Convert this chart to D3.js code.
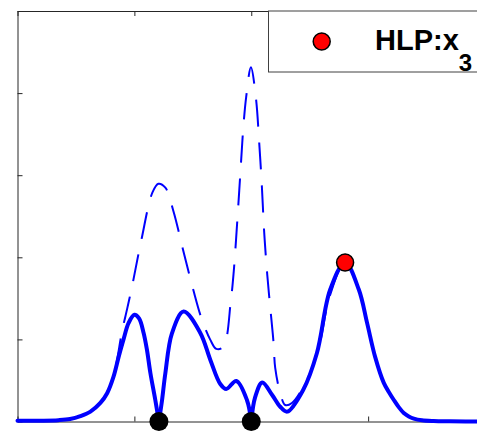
<!DOCTYPE html>
<html>
<head>
<meta charset="utf-8">
<script src="https://cdn.jsdelivr.net/npm/d3@7"></script>
<style>
  html, body { margin: 0; padding: 0; background: #fff; }
  svg { display: block; }
</style>
</head>
<body>
<div id="chart"></div>
<script>
// ---- data ----
const xTicks = [0, 1, 2, 3, 4];
const yTicks = [0, 1, 2, 3, 4, 5];

const solidX = [0, 0.2, 0.35, 0.45, 0.538, 0.624, 0.709, 0.767, 0.821, 0.866, 0.906, 0.951, 1.0, 1.04, 1.079, 1.108, 1.137, 1.179, 1.21, 1.237, 1.265, 1.322, 1.421, 1.564, 1.650, 1.735, 1.786, 1.872, 1.963, 2.0, 2.034, 2.094, 2.179, 2.248, 2.308, 2.444, 2.562, 2.675, 2.803, 2.921, 2.991, 3.060, 3.134, 3.177, 3.220, 3.262, 3.305, 3.348, 3.391, 3.46, 3.56, 3.7, 4.0];
const solidY = [0.008, 0.01, 0.016, 0.03, 0.065, 0.12, 0.226, 0.344, 0.543, 0.79, 0.994, 1.201, 1.299, 1.255, 1.079, 0.87, 0.591, 0.262, 0, 0.262, 0.588, 1.076, 1.339, 1.079, 0.75, 0.457, 0.396, 0.494, 0.262, 0, 0.299, 0.476, 0.323, 0.18, 0.12, 0.384, 0.835, 1.604, 1.937, 1.604, 1.201, 0.787, 0.470, 0.36, 0.262, 0.175, 0.104, 0.062, 0.035, 0.014, 0.005, 0.002, 0.0];

const dashX = [0, 0.2, 0.35, 0.45, 0.538, 0.624, 0.709, 0.767, 0.821, 0.897, 0.940, 0.983, 1.060, 1.154, 1.205, 1.265, 1.333, 1.427, 1.504, 1.573, 1.650, 1.701, 1.761, 1.826, 1.850, 1.880, 1.906, 1.932, 1.957, 1.997, 2.040, 2.068, 2.091, 2.111, 2.137, 2.162, 2.191, 2.205, 2.248, 2.291, 2.348, 2.476, 2.573, 2.675, 2.803, 2.921, 2.991, 3.060, 3.134, 3.177, 3.220, 3.262, 3.305, 3.348, 3.391, 3.46, 3.56, 3.7, 4.0];
const dashY = [0.008, 0.01, 0.016, 0.03, 0.065, 0.12, 0.226, 0.344, 0.543, 1.116, 1.384, 1.665, 2.213, 2.787, 2.896, 2.848, 2.567, 2.030, 1.604, 1.262, 0.994, 0.884, 0.909, 1.482, 1.823, 2.433, 3.006, 3.579, 3.957, 4.315, 3.941, 3.396, 2.860, 2.299, 1.787, 1.396, 0.957, 0.652, 0.348, 0.201, 0.226, 0.506, 0.872, 1.543, 1.937, 1.604, 1.201, 0.787, 0.470, 0.36, 0.262, 0.175, 0.104, 0.062, 0.035, 0.014, 0.005, 0.002, 0.0];

const zeroX = [1.21, 2.0];
const zeroY = [0, 0];
const hlpX = [2.803];
const hlpY = [1.937];
const legendLabel = "HLP:x";
const legendSub = "3";

// ---- layout ----
const W = 477, H = 437;
const mLeft = 17.5, mRight = 485, mTop = 11, mBottom = 421.5;

const svg = d3.select("#chart").append("svg").attr("width", W).attr("height", H);

const x = d3.scaleLinear().domain([0, 4]).range([mLeft, mRight]);
const y = d3.scaleLinear().domain([0, 5]).range([mBottom, mTop]);

// axes
const axisColor = "#262626";
function styleAxis(g) {
  g.selectAll("path.domain").attr("stroke", axisColor).attr("stroke-width", 1);
  g.selectAll(".tick line").attr("stroke", axisColor).attr("stroke-width", 1);
  g.selectAll(".tick text").remove();
}
svg.append("g").attr("transform", `translate(0,${mBottom})`)
  .call(d3.axisBottom(x).tickValues(xTicks).tickSizeInner(-5).tickSizeOuter(0).tickFormat(""))
  .call(styleAxis);
svg.append("g").attr("transform", `translate(0,${mTop})`)
  .call(d3.axisTop(x).tickValues(xTicks).tickSizeInner(-5).tickSizeOuter(0).tickFormat(""))
  .call(styleAxis);
svg.append("g").attr("transform", `translate(${mLeft},0)`)
  .call(d3.axisLeft(y).tickValues(yTicks).tickSizeInner(-5).tickSizeOuter(0).tickFormat(""))
  .call(styleAxis);

// lines
const line = d3.line().x(d => x(d[0])).y(d => y(d[1])).curve(d3.curveCatmullRom.alpha(0.5));

const dashPts = dashX.map((v, i) => [v, dashY[i]]);
svg.append("path").attr("d", line(dashPts))
  .attr("fill", "none").attr("stroke", "#0000ff").attr("stroke-width", 2)
  .attr("stroke-dasharray", "27,16");

// split solid at interior zeros to keep the cusps
const solidPts = solidX.map((v, i) => [v, solidY[i]]);
const segs = [];
let cur = [];
solidPts.forEach((p, i) => {
  cur.push(p);
  if (p[1] === 0 && i > 0 && i < solidPts.length - 1) { segs.push(cur); cur = [p]; }
});
segs.push(cur);
svg.selectAll("path.solid").data(segs).enter().append("path").attr("class", "solid")
  .attr("d", d => line(d))
  .attr("fill", "none").attr("stroke", "#0000ff").attr("stroke-width", 4)
  .attr("stroke-linecap", "round").attr("stroke-linejoin", "round");

// markers
svg.selectAll("circle.zero").data(zeroX.map((v, i) => [v, zeroY[i]])).enter()
  .append("circle").attr("class", "zero")
  .attr("cx", d => x(d[0])).attr("cy", d => y(d[1])).attr("r", 9.5)
  .attr("fill", "#000");
svg.selectAll("circle.hlp").data(hlpX.map((v, i) => [v, hlpY[i]])).enter()
  .append("circle").attr("class", "hlp")
  .attr("cx", d => x(d[0])).attr("cy", d => y(d[1])).attr("r", 8.5)
  .attr("fill", "#ff0000").attr("stroke", "#000").attr("stroke-width", 1.5);

// legend
const lg = svg.append("g");
lg.append("rect").attr("x", 268.5).attr("y", mTop).attr("width", 240).attr("height", 61)
  .attr("fill", "#fff").attr("stroke", "#404040").attr("stroke-width", 1);
lg.append("circle").attr("cx", 321.7).attr("cy", 41.5).attr("r", 8.5)
  .attr("fill", "#ff0000").attr("stroke", "#000").attr("stroke-width", 1.5);
const t = lg.append("text").attr("x", 375).attr("y", 49.5)
  .attr("font-family", "'Liberation Sans', Arial, sans-serif")
  .attr("font-weight", "bold").attr("font-size", 29).attr("fill", "#000");
t.append("tspan").text(legendLabel);
t.append("tspan").attr("dy", 21.5).attr("font-size", 24).text(legendSub);
</script>
</body>
</html>
